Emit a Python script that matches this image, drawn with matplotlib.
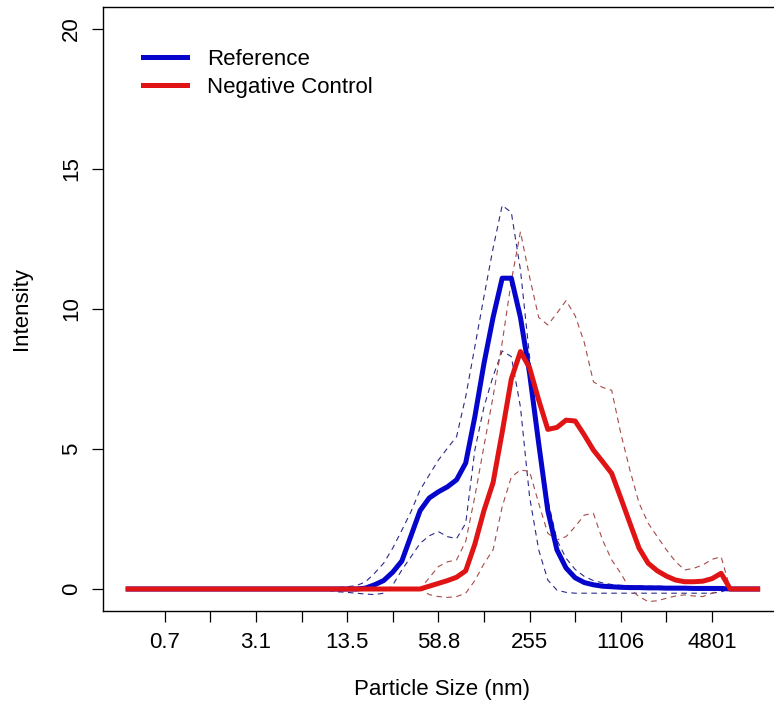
import matplotlib
matplotlib.use("Agg")
import matplotlib.pyplot as plt
import numpy as np

plt.rcParams['font.family'] = ['Liberation Sans', 'DejaVu Sans']

# size bins (index of the 70 size classes)
bins = np.arange(1, 71)

# tick positions / labels (bin index -> size in nm)
tick_pos = [5, 10, 15, 20, 25, 30, 35, 40, 45, 50, 55, 60, 65]
tick_lab = ['0.7', '', '3.1', '', '13.5', '', '58.8', '', '255', '', '1106', '', '4801']

# Reference: mean and +/- band
ref_mean = [0.0] * 26 + [
    0.03, 0.15, 0.3, 0.6, 1.0, 1.9, 2.8, 3.25, 3.47, 3.65,
    3.9, 4.5, 6.15, 8.05, 9.7, 11.1, 11.1, 9.7, 7.7, 5.2,
    2.8, 1.4, 0.75, 0.4, 0.23, 0.15, 0.1, 0.08, 0.06, 0.05,
    0.05, 0.04, 0.04, 0.03, 0.03, 0.03, 0.02, 0.02, 0.02, 0.02,
] + [0.0] * 4
ref_upper = [0.0] * 22 + [
    0.03, 0.05, 0.08, 0.12, 0.25, 0.56, 0.92, 1.46, 2.1, 2.76,
    3.54, 4.07, 4.6, 5.03, 5.44, 6.87, 8.65, 10.44, 12.17, 13.7,
    13.45, 11.4, 8.3, 5.44, 3.18, 1.75, 1.1, 0.7, 0.45, 0.3,
    0.22, 0.16, 0.13, 0.12, 0.11, 0.1, 0.1, 0.09, 0.09, 0.08,
    0.08, 0.07, 0.07, 0.06,
] + [0.0] * 4
ref_lower = [0.0] * 22 + [
    -0.05, -0.1, -0.12, -0.15, -0.18, -0.2, -0.15, 0.14, 0.68, 1.15,
    1.63, 1.9, 2.05, 1.87, 1.8, 2.35, 4.96, 6.5, 7.6, 8.5,
    8.3, 6.5, 3.3, 1.4, 0.32, -0.04, -0.12, -0.15, -0.15, -0.15,
    -0.15, -0.15, -0.15, -0.15, -0.15, -0.15, -0.15, -0.15, -0.15, -0.15,
    -0.15, -0.15, -0.15, -0.1,
] + [0.0] * 4

# Negative control: mean and +/- band
neg_mean = [0.0] * 33 + [
    0.1, 0.2, 0.3, 0.42, 0.65, 1.6, 2.8, 3.8, 5.6, 7.5,
    8.48, 7.9, 6.75, 5.7, 5.77, 6.03, 6.0, 5.5, 4.96, 4.55,
    4.13, 3.25, 2.35, 1.46, 0.92, 0.65, 0.46, 0.32, 0.26, 0.26,
    0.28, 0.37, 0.56,
] + [0.0] * 4
neg_upper = [0.0] * 33 + [
    0.4, 0.8, 0.97, 1.04, 1.7, 3.3, 5.1, 6.87, 8.8, 11.0,
    12.76, 11.15, 9.7, 9.43, 9.85, 10.3, 9.76, 8.8, 7.4, 7.2,
    7.1, 5.56, 4.25, 3.07, 2.35, 1.87, 1.4, 0.98, 0.68, 0.74,
    0.86, 1.06, 1.15,
] + [0.0] * 4
neg_lower = [0.0] * 33 + [
    -0.2, -0.27, -0.3, -0.27, -0.15, 0.3, 0.9, 1.4, 2.94, 4.0,
    4.25, 4.2, 3.06, 1.99, 1.75, 1.87, 2.23, 2.64, 2.7, 1.75,
    1.04, 0.56, 0.0, -0.27, -0.45, -0.42, -0.33, -0.25, -0.21, -0.25,
    -0.27, -0.15, -0.04,
] + [0.0] * 4

blue = '#0505CC'
red = '#E01414'
blue_d = '#2A2A88'
red_d = '#A84A4A'

W, H = 774, 708
fig = plt.figure(figsize=(W / 100, H / 100), dpi=100)
# plot box runs a bit past the right edge of the image (cropped)
x0, x1, y0, y1 = 103, 782.8, 6.6, 611.4
ax = fig.add_axes([x0 / W, 1 - y1 / H, (x1 - x0) / W, (y1 - y0) / H])

# dashed bands first, so the thick lines sit on top
for v in (ref_upper, ref_lower):
    ax.plot(bins, v, color=blue_d, lw=0.8, dashes=(5, 4), zorder=2)
for v in (neg_upper, neg_lower):
    ax.plot(bins, v, color=red_d, lw=0.8, dashes=(5, 4), zorder=2)

ax.plot(bins, ref_mean, color=blue, lw=3.6, label='Reference', zorder=3,
        solid_joinstyle='round')
ax.plot(bins, neg_mean, color=red, lw=3.6, label='Negative Control', zorder=4,
        solid_joinstyle='round')

ax.set_xlim(-1.76, 72.76)
ax.set_ylim(-0.8, 20.8)
ax.set_xticks(tick_pos)
ax.set_xticklabels(tick_lab)
ax.set_yticks([0, 5, 10, 15, 20])
ax.set_yticklabels(['0', '5', '10', '15', '20'])
for lab in ax.get_yticklabels():
    lab.set_rotation(90)
    lab.set_va('center')
ax.tick_params(labelsize=16, length=8, width=0.9, direction='out', pad=7)
for s in ax.spines.values():
    s.set_linewidth(1.0)

fig.text(442 / W, 1 - 690 / H, 'Particle Size (nm)', fontsize=16,
         ha='center', va='center')
fig.text(22 / W, 1 - 309 / H, 'Intensity', fontsize=16, rotation=90,
         ha='center', va='center')

ax.legend(loc='upper left', bbox_to_anchor=((143 - x0) / (x1 - x0), 0.930),
          frameon=False, fontsize=16, handlelength=2.0, handletextpad=0.9,
          labelspacing=0.33, borderpad=0, borderaxespad=0)

fig.savefig('out.png', dpi=100)
